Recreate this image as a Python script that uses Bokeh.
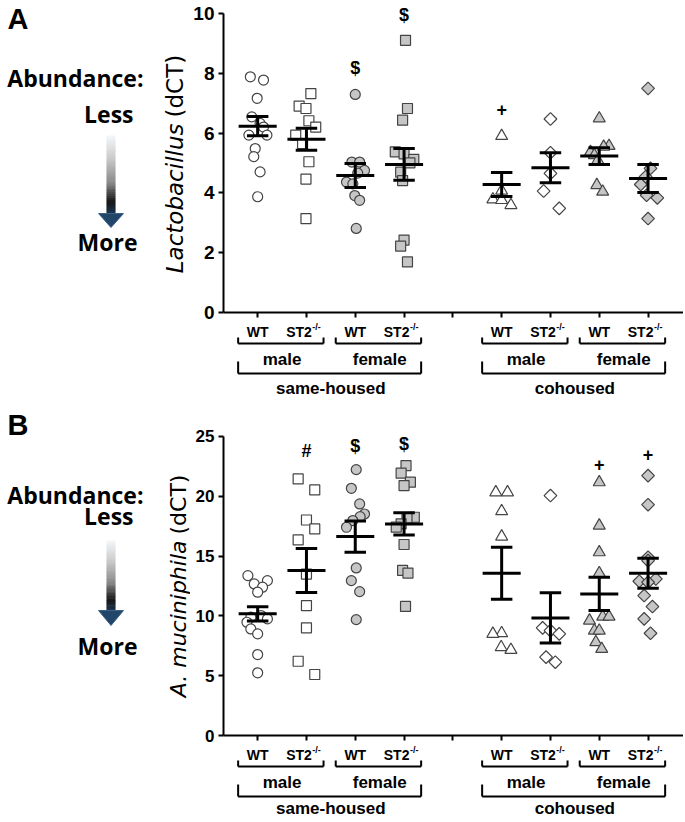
import math
from bokeh.plotting import figure
from bokeh.models import Range1d, FixedTicker
from bokeh.layouts import row, column
from bokeh.embed import file_html
from bokeh.resources import INLINE
from bokeh.core.properties import value

# ---------------- categories ----------------
group_x = [1, 2, 3, 4, 6, 7, 8, 9]
axis_ticks_x = [1, 2, 3, 4, 5, 6, 7, 8, 9]
genotype_labels = ["WT", "ST2", "WT", "ST2", "WT", "ST2", "WT", "ST2"]
sex_labels = ["male", "female", "male", "female"]
housing_labels = ["same-housed", "cohoused"]
group_markers = ["circle", "square", "circle", "square", "triangle", "diamond", "triangle", "diamond"]
group_filled = [False, False, True, True, False, False, True, True]

# ---------------- Panel A: Lactobacillus (dCT) ----------------
lac_sh_male_wt = [7.88, 7.77, 7.16, 6.54, 6.32, 6.20, 5.93, 5.93, 5.48, 5.21, 4.70, 3.87]
lac_sh_male_st2 = [7.32, 6.90, 6.82, 6.41, 6.20, 5.93, 5.65, 5.04, 4.46, 3.14]
lac_sh_female_wt = [7.29, 5.03, 5.03, 4.75, 4.66, 4.36, 4.30, 3.91, 3.75, 2.81]
lac_sh_female_st2 = [9.10, 6.82, 6.43, 5.37, 5.30, 5.12, 5.00, 4.69, 4.41, 2.42, 2.22, 1.69]
lac_co_male_wt = [5.90, 4.07, 3.78, 3.76, 3.59]
lac_co_male_st2 = [6.47, 5.34, 4.65, 4.06, 3.48]
lac_co_female_wt = [6.49, 5.57, 5.54, 5.37, 5.26, 5.09, 4.26, 4.04]
lac_co_female_st2 = [7.49, 4.82, 4.54, 4.28, 3.92, 3.83, 3.14]
lac_mean = [6.23, 5.79, 4.58, 4.95, 4.28, 4.84, 5.23, 4.48]
lac_sem = [0.32, 0.37, 0.40, 0.53, 0.40, 0.50, 0.28, 0.47]
lac_sig_group = [2, 3, 4]
lac_sig_text = ["$", "$", "+"]
lac_sig_y = [8.16, 9.94, 6.77]
lac_yticks = [0, 2, 4, 6, 8, 10]

# horizontal spread of the dots (category units)
dx_lac_sh_male_wt = [-0.15, 0.12, -0.01, -0.12, 0.05, 0.12, -0.18, 0.19, -0.05, -0.08, 0.05, 0.00]
dx_lac_sh_male_st2 = [0.09, -0.15, -0.01, 0.05, 0.19, -0.22, -0.08, 0.05, -0.01, -0.01]
dx_lac_sh_female_wt = [0.00, -0.07, 0.09, 0.19, 0.05, -0.18, -0.05, -0.01, 0.09, 0.02]
dx_lac_sh_female_st2 = [0.03, 0.07, -0.03, -0.18, 0.00, 0.20, 0.12, -0.07, -0.03, 0.00, -0.07, 0.07]
dx_lac_co_male_wt = [0.00, 0.00, -0.18, 0.00, 0.19]
dx_lac_co_male_st2 = [0.00, 0.00, 0.00, -0.14, 0.18]
dx_lac_co_female_wt = [0.00, 0.20, 0.09, -0.18, -0.10, -0.03, -0.05, 0.07]
dx_lac_co_female_st2 = [0.00, 0.05, -0.05, -0.15, -0.03, 0.19, 0.00]

# ---------------- Panel B: A. muciniphila (dCT) ----------------
akk_sh_male_wt = [13.37, 12.95, 12.67, 12.40, 11.98, 10.03, 9.89, 9.75, 9.47, 8.91, 8.50, 6.77, 5.24]
akk_sh_male_st2 = [21.45, 20.53, 18.02, 17.27, 16.35, 13.50, 10.86, 9.00, 6.21, 5.10]
akk_sh_female_wt = [22.23, 20.67, 19.36, 18.52, 18.30, 17.97, 17.41, 14.01, 12.95, 12.03, 9.69]
akk_sh_female_st2 = [22.57, 21.93, 21.18, 20.90, 18.25, 18.20, 17.70, 17.42, 15.97, 13.80, 13.58, 10.79]
akk_co_male_wt = [20.33, 20.33, 18.75, 16.63, 8.55, 8.50, 7.38, 7.16]
akk_co_male_st2 = [20.06, 9.00, 8.77, 8.50, 6.55, 6.13]
akk_co_female_wt = [21.17, 17.55, 15.32, 13.57, 9.94, 9.94, 9.61, 8.77, 8.77, 7.80, 7.24]
akk_co_female_st2 = [21.73, 19.30, 14.90, 14.62, 13.09, 12.90, 12.81, 11.70, 10.78, 9.75, 8.55]
akk_mean = [10.17, 13.79, 16.63, 17.69, 13.57, 9.83, 11.84, 13.57]
akk_sem = [0.60, 1.84, 1.30, 0.93, 2.17, 2.10, 1.39, 1.25]
akk_sig_group = [1, 2, 3, 6, 7]
akk_sig_text = ["#", "$", "$", "+", "+"]
akk_sig_y = [23.8, 24.2, 24.4, 22.7, 23.5]
akk_yticks = [0, 5, 10, 15, 20, 25]

dx_akk_sh_male_wt = [-0.20, 0.20, -0.07, 0.10, 0.00, 0.07, -0.14, 0.20, -0.22, -0.14, 0.00, 0.00, 0.00]
dx_akk_sh_male_st2 = [-0.17, 0.17, 0.00, 0.17, -0.17, 0.00, 0.00, 0.00, -0.17, 0.17]
dx_akk_sh_female_wt = [0.02, -0.08, 0.09, 0.19, 0.10, -0.05, -0.18, 0.02, -0.08, 0.09, 0.02]
dx_akk_sh_female_st2 = [0.04, -0.06, 0.13, 0.00, 0.21, 0.06, -0.06, -0.16, 0.00, -0.03, 0.08, 0.03]
dx_akk_co_male_wt = [-0.12, 0.12, 0.00, 0.00, 0.00, -0.18, -0.01, 0.19]
dx_akk_co_male_st2 = [0.00, -0.16, 0.00, 0.18, -0.09, 0.10]
dx_akk_co_female_wt = [0.00, 0.00, 0.00, 0.00, 0.07, 0.20, -0.20, -0.10, 0.00, -0.07, 0.05]
dx_akk_co_female_st2 = [0.00, 0.00, 0.00, 0.00, 0.16, -0.18, 0.00, -0.08, 0.09, -0.08, 0.05]

lac_groups = [lac_sh_male_wt, lac_sh_male_st2, lac_sh_female_wt, lac_sh_female_st2,
              lac_co_male_wt, lac_co_male_st2, lac_co_female_wt, lac_co_female_st2]
lac_dx = [dx_lac_sh_male_wt, dx_lac_sh_male_st2, dx_lac_sh_female_wt, dx_lac_sh_female_st2,
          dx_lac_co_male_wt, dx_lac_co_male_st2, dx_lac_co_female_wt, dx_lac_co_female_st2]
akk_groups = [akk_sh_male_wt, akk_sh_male_st2, akk_sh_female_wt, akk_sh_female_st2,
              akk_co_male_wt, akk_co_male_st2, akk_co_female_wt, akk_co_female_st2]
akk_dx = [dx_akk_sh_male_wt, dx_akk_sh_male_st2, dx_akk_sh_female_wt, dx_akk_sh_female_st2,
          dx_akk_co_male_wt, dx_akk_co_male_st2, dx_akk_co_female_wt, dx_akk_co_female_st2]

# ---------------- styles / layout ----------------
FRAME_W = 460
LEFT_W = 190
AX_BORDER = 33
X_LO = 0.3
X_HI = 0.3 + FRAME_W / 48.8
OPEN_FILL = "white"
GRAY_FILL = "#c6c6c6"
MARK_LINE = "#444444"
AXFONT_NAME = "Liberation Sans"
AXFONT = value(AXFONT_NAME)
SIDEFONT = value("Open Sans")
TITLEFONT = value("DejaVu Sans")


def main_fig(groups, dxs, means, sems, sig_group, sig_text, sig_y, yticks, ymax, frame_h,
             tick_size, top_border):
    p = figure(frame_width=FRAME_W, frame_height=frame_h,
               x_range=Range1d(X_LO, X_HI), y_range=Range1d(0, ymax),
               toolbar_location=None, output_backend="svg", title=None,
               min_border_left=AX_BORDER, min_border_right=0, min_border_top=top_border,
               min_border_bottom=10)
    p.outline_line_color = None
    p.xgrid.visible = False
    p.ygrid.visible = False
    for ax in (p.xaxis[0], p.yaxis[0]):
        ax.axis_line_color = "black"
        ax.axis_line_width = 2
        ax.major_tick_line_color = "black"
        ax.major_tick_line_width = 2
        ax.major_tick_in = 0
        ax.major_tick_out = 5
    p.yaxis.minor_tick_line_color = None
    p.yaxis.ticker = FixedTicker(ticks=yticks)
    p.yaxis.bounds = (yticks[0], yticks[-1])
    p.yaxis.major_label_text_font = AXFONT_NAME
    p.yaxis.major_label_text_font_style = "bold"
    p.yaxis.major_label_text_font_size = tick_size
    p.yaxis.major_label_text_color = "black"
    p.yaxis.major_label_standoff = 4
    # category ticks without labels (labels are drawn in the panel underneath)
    p.xaxis.ticker = FixedTicker(ticks=[], minor_ticks=axis_ticks_x)
    p.xaxis.minor_tick_line_color = "black"
    p.xaxis.minor_tick_line_width = 2
    p.xaxis.minor_tick_in = 0
    p.xaxis.minor_tick_out = 5

    for gi, (vals, dx) in enumerate(zip(groups, dxs)):
        xs = [group_x[gi] + d for d in dx]
        marker = group_markers[gi]
        fill = GRAY_FILL if group_filled[gi] else OPEN_FILL
        if marker == "circle":
            p.scatter(xs, vals, marker="circle", size=10, fill_color=fill, line_color=MARK_LINE, line_width=1.2)
        elif marker == "square":
            p.scatter(xs, vals, marker="square", size=10, fill_color=fill, line_color=MARK_LINE, line_width=1.2)
        elif marker == "triangle":
            p.scatter(xs, vals, marker="triangle", size=12, fill_color=fill, line_color=MARK_LINE, line_width=1.2)
        else:
            p.scatter(xs, vals, marker="square", angle=math.pi / 4, size=9, fill_color=fill,
                      line_color=MARK_LINE, line_width=1.2)

    # mean and SEM
    mx0 = [x - 0.39 for x in group_x]
    mx1 = [x + 0.39 for x in group_x]
    p.segment(mx0, means, mx1, means, line_color="black", line_width=3)
    lo = [m - s for m, s in zip(means, sems)]
    hi = [m + s for m, s in zip(means, sems)]
    p.segment(group_x, lo, group_x, hi, line_color="black", line_width=3)
    cx0 = [x - 0.22 for x in group_x]
    cx1 = [x + 0.22 for x in group_x]
    p.segment(cx0, lo, cx1, lo, line_color="black", line_width=3)
    p.segment(cx0, hi, cx1, hi, line_color="black", line_width=3)

    sx = [group_x[g] for g in sig_group]
    p.text(sx, sig_y, text=sig_text, text_font=AXFONT, text_font_style="bold",
           text_font_size="18px", text_align="center", text_baseline="middle", text_color="black")
    return p


def label_fig(frame_h, housing_y):
    # y in this panel = pixels below the x-axis line (panel starts 10 px below it)
    f = figure(frame_width=FRAME_W, frame_height=frame_h,
               x_range=Range1d(X_LO, X_HI), y_range=Range1d(10 + frame_h, 10),
               toolbar_location=None, output_backend="svg", title=None,
               x_axis_type=None, y_axis_type=None,
               min_border_left=AX_BORDER, min_border_right=0, min_border_top=0, min_border_bottom=0)
    f.outline_line_color = None
    wt_x = [x for x, g in zip(group_x, genotype_labels) if g == "WT"]
    st_x = [x for x, g in zip(group_x, genotype_labels) if g == "ST2"]
    f.text(wt_x, [19] * len(wt_x), text=["WT"] * len(wt_x), text_font=AXFONT, text_font_style="bold",
           text_font_size="14px", text_align="center", text_baseline="middle", text_color="black")
    f.text([x + 0.11 for x in st_x], [19] * len(st_x), text=["ST2"] * len(st_x), text_font=AXFONT,
           text_font_style="bold", text_font_size="14px", text_align="right", text_baseline="middle",
           text_color="black")
    f.text([x + 0.12 for x in st_x], [14] * len(st_x), text=["-/-"] * len(st_x), text_font=AXFONT,
           text_font_style="bold", text_font_size="9px", text_align="left", text_baseline="middle",
           text_color="black")
    bx0, bx1, bxm = [], [], []
    for k in range(4):
        bx0.append(group_x[2 * k] - 0.4)
        bx1.append(group_x[2 * k + 1] + 0.35)
        bxm.append((group_x[2 * k] + group_x[2 * k + 1]) / 2)
    n = len(bx0)
    f.segment(bx0, [25] * n, bx0, [31] * n, line_color="black", line_width=2)
    f.segment(bx1, [25] * n, bx1, [31] * n, line_color="black", line_width=2)
    f.segment(bx0, [31] * n, bx1, [31] * n, line_color="black", line_width=2)
    f.text(bxm, [47] * n, text=sex_labels, text_font=AXFONT, text_font_style="bold",
           text_font_size="17px", text_align="center", text_baseline="middle", text_color="black")
    hx0, hx1, hxm = [], [], []
    for h in range(2):
        hx0.append(group_x[4 * h] - 0.4)
        hx1.append(group_x[4 * h + 3] + 0.35)
        hxm.append((group_x[4 * h] + group_x[4 * h + 3]) / 2)
    m = len(hx0)
    f.segment(hx0, [49] * m, hx0, [61] * m, line_color="black", line_width=2)
    f.segment(hx1, [49] * m, hx1, [61] * m, line_color="black", line_width=2)
    f.segment(hx0, [61] * m, hx1, [61] * m, line_color="black", line_width=2)
    f.text(hxm, [housing_y] * m, text=housing_labels, text_font=AXFONT, text_font_style="bold",
           text_font_size="17px", text_align="center", text_baseline="middle", text_color="black")
    return f


def lerp_color(c0, c1, t):
    a = [int(c0[i:i + 2], 16) for i in (1, 3, 5)]
    b = [int(c1[i:i + 2], 16) for i in (1, 3, 5)]
    return "#%02x%02x%02x" % tuple(int(round(a[i] + (b[i] - a[i]) * t)) for i in range(3))


GRAD_STOPS = [(0.0, "#f4f7fb"), (0.3, "#c9c9c9"), (0.6, "#8a8a8a"), (0.85, "#161616"), (1.0, "#1c3550")]


def grad_color(t):
    for (t0, c0), (t1, c1) in zip(GRAD_STOPS[:-1], GRAD_STOPS[1:]):
        if t <= t1:
            return lerp_color(c0, c1, (t - t0) / (t1 - t0))
    return GRAD_STOPS[-1][1]


def side_fig(y_top, height, letter, title_italic, title_plain, title_size, title_x, ys):
    # coordinates in this panel are page pixels (y grows downward)
    f = figure(width=LEFT_W, height=height, x_range=Range1d(0, LEFT_W),
               y_range=Range1d(y_top + height, y_top), toolbar_location=None, output_backend="svg",
               title=None, x_axis_type=None, y_axis_type=None, min_border=0)
    f.outline_line_color = None
    y_letter, y_abund, y_less, y_bar0, y_bar1, y_tip, y_more, y_split = ys
    f.text([7], [y_letter], text=[letter], text_font=AXFONT, text_font_style="bold",
           text_font_size="29px", text_align="left", text_baseline="middle", text_color="black")
    f.text([143], [y_abund], text=["Abundance:"], text_font=SIDEFONT, text_font_style="bold",
           text_font_size="23px", text_align="right", text_baseline="middle", text_color="black")
    f.text([133], [y_less], text=["Less"], text_font=SIDEFONT, text_font_style="bold",
           text_font_size="23px", text_align="right", text_baseline="middle", text_color="black")
    f.text([137], [y_more], text=["More"], text_font=SIDEFONT, text_font_style="bold",
           text_font_size="23px", text_align="right", text_baseline="middle", text_color="black")
    xc = 110.5
    nseg = 40
    step = (y_bar1 - y_bar0) / nseg
    tops = [y_bar0 + i * step for i in range(nseg)]
    bots = [t + step + 0.5 for t in tops]
    cols = [grad_color((i + 0.5) / nseg) for i in range(nseg)]
    f.quad(left=[xc - 4.5] * nseg, right=[xc + 4.5] * nseg, top=tops, bottom=bots,
           fill_color=cols, line_color=None)
    f.patch([xc - 12.5, xc + 12.5, xc], [y_bar1, y_bar1, y_tip], fill_color="#22466a",
            line_color="#3c6285", line_width=1)
    f.text([title_x], [y_split + 6], text=[title_italic], text_font=TITLEFONT, text_font_style="italic",
           text_font_size=title_size, text_align="right", text_baseline="middle", angle=math.pi / 2,
           text_color="black")
    f.text([title_x], [y_split], text=[title_plain], text_font=TITLEFONT, text_font_style="normal",
           text_font_size=title_size, text_align="left", text_baseline="middle", angle=math.pi / 2,
           text_color="black")
    return f


# ---------------- assemble ----------------
mainA = main_fig(lac_groups, lac_dx, lac_mean, lac_sem, lac_sig_group, lac_sig_text, lac_sig_y,
                 lac_yticks, 10.43, 312, "19px", 0)
labA = label_fig(88, 76)
mainB = main_fig(akk_groups, akk_dx, akk_mean, akk_sem, akk_sig_group, akk_sig_text, akk_sig_y,
                 akk_yticks, 26.17, 313, "17px", 12)
labB = label_fig(77, 73)

sideA = side_fig(0, 410, "A", "Lactobacillus", "(dCT)", "23px", 174,
                 (18, 77, 113, 135, 213, 227, 241, 117))
sideB = side_fig(410, 412, "B", "A. muciniphila", "(dCT)", "22px", 178,
                 (424, 494, 515, 540, 610, 625, 645, 534))

layout = column(row(sideA, column(mainA, labA)), row(sideB, column(mainB, labB)))

open("out.html", "w").write(file_html(layout, INLINE))
